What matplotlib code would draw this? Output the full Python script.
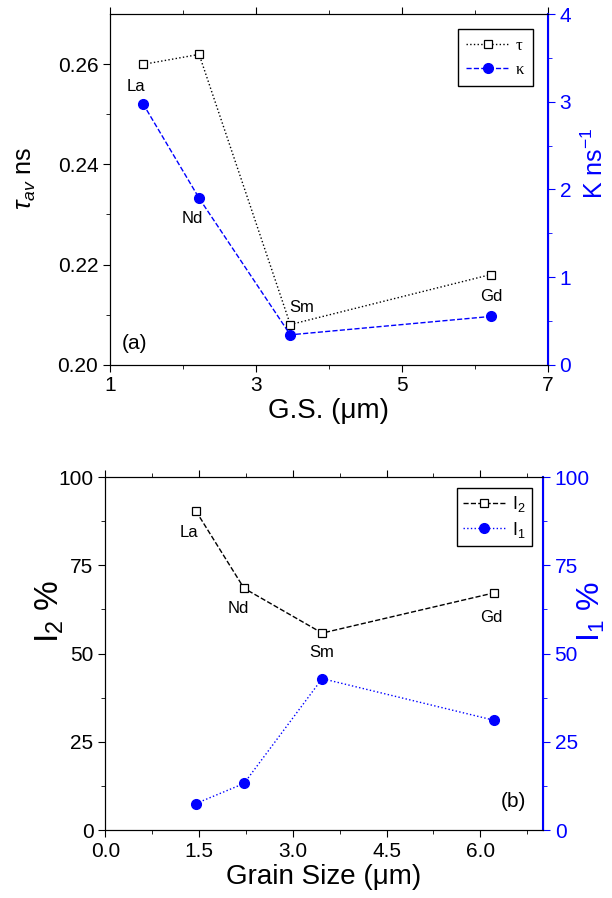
import matplotlib
matplotlib.use("Agg")
import matplotlib.pyplot as plt

plt.rcParams['font.family'] = ['Liberation Sans', 'DejaVu Sans']
plt.rcParams['mathtext.fontset'] = 'custom'
plt.rcParams['mathtext.rm'] = 'Liberation Sans'
plt.rcParams['mathtext.it'] = 'Liberation Sans:italic'

# data
elements = ['La', 'Nd', 'Sm', 'Gd']
grain_size = [1.45, 2.22, 3.47, 6.22]
tau_av = [0.260, 0.262, 0.208, 0.218]
kappa = [2.98, 1.90, 0.34, 0.55]
i2_pct = [90.4, 68.5, 55.8, 67.2]
i1_pct = [7.5, 13.2, 42.9, 31.1]

# label positions (data coords)
lab_a = [(1.36, 0.2555), (2.12, 0.2292), (3.62, 0.2115), (6.22, 0.2137)]
lab_b = [(1.34, 84.2), (2.13, 62.8), (3.46, 50.3), (6.18, 60.2)]

BLUE = '#0000ff'
serif_leg = {'family': ['Liberation Serif', 'DejaVu Serif'], 'size': 12}


def style_ticks(ax, right=False):
    color = BLUE if right else 'black'
    ax.tick_params(which='both', direction='out', labelsize=15, colors=color)
    ax.tick_params(which='major', length=5)
    ax.tick_params(which='minor', length=3)


fig = plt.figure(figsize=(6.12, 8.98), dpi=100)

# ---- panel (a)
ax1 = fig.add_axes([0.180, 0.594, 0.715, 0.390])
ax1.plot(grain_size, tau_av, color='black', ls=':', lw=1, marker='s', ms=6,
         mfc='white', mec='black', mew=0.9, label='τ')
ax1.set_xlim(1, 7)
ax1.set_ylim(0.20, 0.27)
ax1.set_xticks([1, 3, 5, 7])
ax1.set_xticks([2, 4, 6], minor=True)
ax1.set_yticks([0.20, 0.22, 0.24, 0.26])
ax1.set_yticklabels(['0.20', '0.22', '0.24', '0.26'])
ax1.set_yticks([0.21, 0.23, 0.25], minor=True)
style_ticks(ax1)
ax1.tick_params(axis='x', which='both', top=True)
ax1.set_xlabel('G.S. (μm)', fontsize=20, labelpad=2)
ax1.set_ylabel(r'$\tau_{av}$ ns', fontsize=18)
ax1.yaxis.set_label_coords(-0.165, 0.53)

ax1r = ax1.twinx()
ax1r.plot(grain_size, kappa, color=BLUE, ls='--', lw=1, marker='o', ms=7,
          mfc=BLUE, mec=BLUE, label='κ')
ax1r.set_ylim(0, 4)
ax1r.set_yticks([0, 1, 2, 3, 4])
ax1r.set_yticks([0.5, 1.5, 2.5, 3.5], minor=True)
style_ticks(ax1r, right=True)
ax1r.spines['right'].set_color(BLUE)
ax1r.spines['right'].set_linewidth(1.5)
ax1r.set_ylabel(r'K ns$^{-1}$', fontsize=18, color=BLUE)
ax1r.yaxis.set_label_coords(1.078, 0.575)

for name, (x, y) in zip(elements, lab_a):
    ax1.text(x, y, name, fontsize=12, ha='center', va='center')
ax1.text(1.34, 0.2042, '(a)', fontsize=15, ha='center', va='center')

h1, l1 = ax1.get_legend_handles_labels()
h2, l2 = ax1r.get_legend_handles_labels()
leg = ax1r.legend(h1 + h2, l1 + l2, loc='upper right', prop=serif_leg,
                  fancybox=False, edgecolor='black', framealpha=1,
                  handlelength=2.6, handletextpad=0.4, borderpad=0.5,
                  borderaxespad=0.9)
leg.get_frame().set_linewidth(1)

# ---- panel (b)
ax2 = fig.add_axes([0.172, 0.0757, 0.715, 0.393])
ax2.plot(grain_size, i2_pct, color='black', ls='--', lw=1, marker='s', ms=6,
         mfc='white', mec='black', mew=0.9, label=r'I$_2$')
ax2.set_xlim(0, 7)
ax2.set_ylim(0, 100)
ax2.set_xticks([0.0, 1.5, 3.0, 4.5, 6.0])
ax2.set_xticklabels(['0.0', '1.5', '3.0', '4.5', '6.0'])
ax2.set_xticks([0.75, 2.25, 3.75, 5.25, 6.75], minor=True)
ax2.set_yticks([0, 25, 50, 75, 100])
ax2.set_yticks([12.5, 37.5, 62.5, 87.5], minor=True)
style_ticks(ax2)
ax2.tick_params(axis='x', which='both', top=True)
ax2.set_xlabel('Grain Size (μm)', fontsize=20, labelpad=2)
ax2.set_ylabel(r'I$_2$ %', fontsize=24)
ax2.yaxis.set_label_coords(-0.09, 0.62)

ax2r = ax2.twinx()
ax2r.plot(grain_size, i1_pct, color=BLUE, ls=':', lw=1, marker='o', ms=7,
          mfc=BLUE, mec=BLUE, label=r'I$_1$')
ax2r.set_ylim(0, 100)
ax2r.set_yticks([0, 25, 50, 75, 100])
ax2r.set_yticks([12.5, 37.5, 62.5, 87.5], minor=True)
style_ticks(ax2r, right=True)
ax2r.spines['right'].set_color(BLUE)
ax2r.spines['right'].set_linewidth(1.5)
ax2r.set_ylabel(r'I$_1$ %', fontsize=23, color=BLUE)
ax2r.yaxis.set_label_coords(1.075, 0.62)

for name, (x, y) in zip(elements, lab_b):
    ax2.text(x, y, name, fontsize=12, ha='center', va='center')
ax2.text(6.53, 8.0, '(b)', fontsize=15, ha='center', va='center')

h1, l1 = ax2.get_legend_handles_labels()
h2, l2 = ax2r.get_legend_handles_labels()
leg = ax2r.legend(h1 + h2, l1 + l2, loc='upper right', fontsize=13,
                  fancybox=False, edgecolor='black', framealpha=1,
                  handlelength=2.3, handletextpad=0.4, borderpad=0.35,
                  labelspacing=0.3, borderaxespad=0.6)
leg.get_frame().set_linewidth(1)

fig.savefig('out.png', dpi=100)
